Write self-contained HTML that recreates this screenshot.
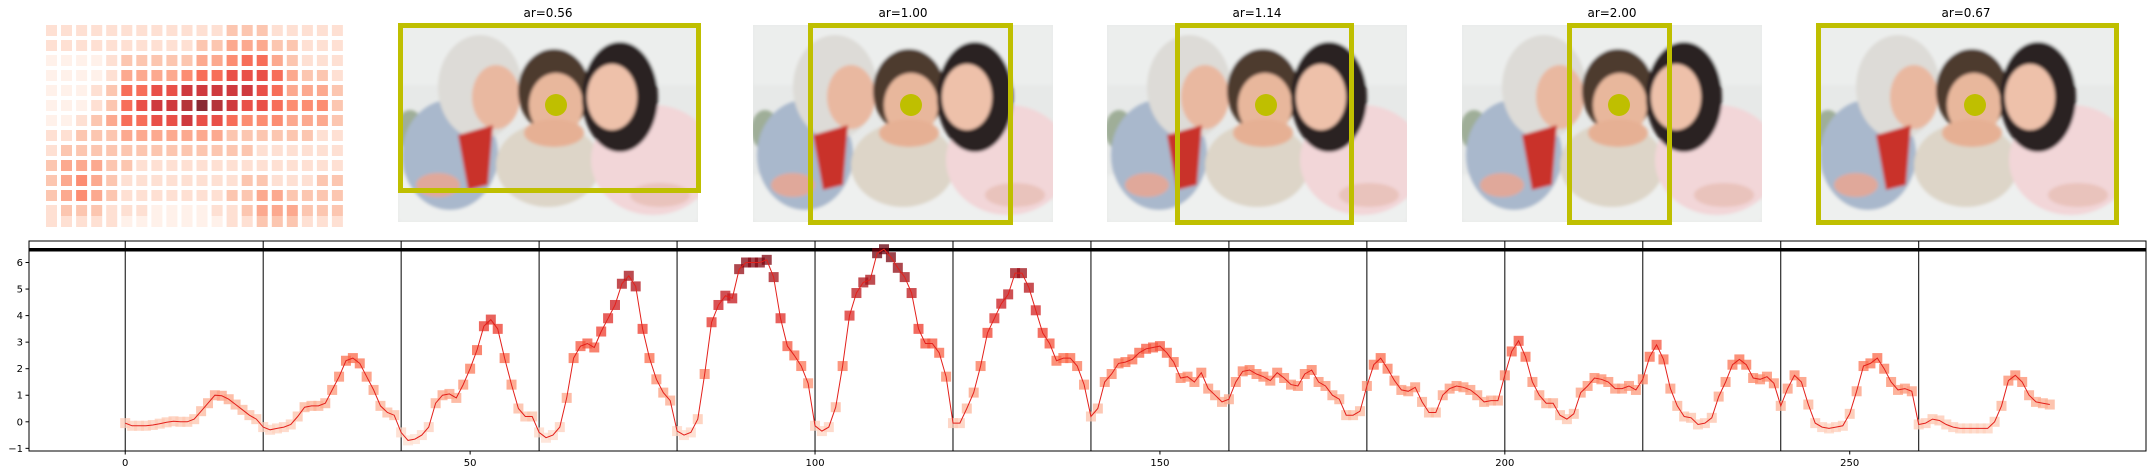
<!DOCTYPE html>
<html><head><meta charset="utf-8">
<style>
html,body{margin:0;padding:0;background:#fff;}
svg{display:block;font-family:"DejaVu Sans","Liberation Sans",sans-serif;}
</style></head>
<body>
<svg id="fig" width="2152" height="475" viewBox="0 0 2152 475" xmlns="http://www.w3.org/2000/svg">
<defs>
  <filter id="soft" x="-5%" y="-5%" width="110%" height="110%"><feGaussianBlur stdDeviation="1.6"/></filter>
  <clipPath id="pclip"><rect x="0" y="0" width="300" height="197"/></clipPath>
  <g id="photo">
    <g clip-path="url(#pclip)">
      <rect x="0" y="0" width="300" height="197" fill="#e7e9e8"/>
      <g filter="url(#soft)">
        <rect x="0" y="0" width="300" height="60" fill="#eceeed"/>
        <ellipse cx="12" cy="105" rx="14" ry="20" fill="#9fae98"/>
        <rect x="0" y="150" width="300" height="47" fill="#eef0ef"/>
        <ellipse cx="52" cy="130" rx="48" ry="55" fill="#a9b8cc"/>
        <ellipse cx="82" cy="62" rx="42" ry="52" fill="#dddbd7"/>
        <ellipse cx="98" cy="72" rx="24" ry="32" fill="#e9b8a0"/>
        <path d="M60 110 L95 100 L90 160 L70 165 Z" fill="#c9302c"/>
        <ellipse cx="40" cy="160" rx="22" ry="12" fill="#e0a89a"/>
        <ellipse cx="150" cy="140" rx="52" ry="42" fill="#ddd5c8"/>
        <ellipse cx="156" cy="66" rx="36" ry="42" fill="#4e3a2e"/>
        <ellipse cx="158" cy="80" rx="27" ry="32" fill="#e8b79c"/>
        <ellipse cx="156" cy="108" rx="30" ry="14" fill="#e6b094"/>
        <ellipse cx="255" cy="135" rx="62" ry="55" fill="#f2d6d8"/>
        <ellipse cx="222" cy="72" rx="38" ry="55" fill="#2a2020"/>
        <ellipse cx="214" cy="72" rx="25" ry="33" fill="#eec1aa"/>
        <ellipse cx="262" cy="170" rx="30" ry="12" fill="#e9c3bc"/>
      </g>
    </g>
  </g>
</defs>
<g id="heatmap"></g>
<g id="panels"></g>
<g id="chart"></g>
</svg>
<script>
const NS="http://www.w3.org/2000/svg";
function mk(tag,attrs,parent){const e=document.createElementNS(NS,tag);for(const k in attrs)e.setAttribute(k,attrs[k]);parent.appendChild(e);return e;}

// ---------- data ----------
const heatLevels=[
[1,1,1,1,1,1,1,1,1,1,1,1,2,2,2,1,1,1,1,1],
[1,1,1,1,1,1,1,1,1,1,2,2,3,3,3,2,2,1,1,1],
[0,0,0,0,1,2,2,2,2,2,3,3,4,5,5,3,2,1,1,1],
[0,0,0,0,1,3,3,3,3,4,5,5,6,6,6,5,3,2,2,1],
[0,0,0,1,2,5,5,6,6,7,7,7,7,7,6,5,3,3,3,2],
[0,0,0,1,2,5,6,7,7,8,9,8,7,6,6,5,4,4,4,2],
[0,0,1,2,3,5,5,6,6,7,6,6,5,4,4,4,3,3,3,2],
[1,1,2,2,2,3,3,3,3,3,3,3,2,2,2,2,2,2,1,1],
[1,2,2,2,2,2,2,2,2,2,2,2,2,2,1,1,1,1,1,1],
[2,3,3,3,2,2,1,1,1,1,1,1,1,1,1,1,1,1,1,1],
[2,3,4,3,2,1,1,1,1,1,1,1,1,2,2,1,1,1,2,2],
[2,3,4,3,2,1,1,1,1,1,1,1,2,2,3,3,2,2,2,2],
[1,2,2,2,1,1,1,0,0,0,0,1,1,2,3,3,3,2,2,2],
[1,1,1,1,1,0,0,0,0,0,0,0,1,1,2,2,2,1,1,1]];

const panelTitles=["ar=0.56","ar=1.00","ar=1.14","ar=2.00","ar=0.67"];

const series=[
-0.05,-0.15,-0.15,-0.15,-0.12,-0.07,-0.02,0.02,0.0,0.0,0.1,0.4,0.7,1.0,0.98,0.85,0.65,0.45,0.25,0.1,
-0.2,-0.3,-0.25,-0.2,-0.1,0.2,0.55,0.6,0.6,0.7,1.2,1.7,2.3,2.4,2.2,1.7,1.2,0.6,0.35,0.25,
-0.4,-0.7,-0.65,-0.5,-0.2,0.7,1.0,1.05,0.9,1.4,2.0,2.7,3.6,3.85,3.5,2.4,1.4,0.5,0.2,0.2,
-0.4,-0.6,-0.5,-0.2,0.9,2.4,2.85,2.95,2.8,3.4,3.9,4.4,5.2,5.5,5.1,3.5,2.4,1.6,1.1,0.8,
-0.35,-0.5,-0.4,0.1,1.8,3.75,4.4,4.75,4.65,5.75,6.0,6.0,6.0,6.1,5.45,3.9,2.85,2.5,2.1,1.45,
-0.15,-0.35,-0.2,0.55,2.1,4.0,4.85,5.25,5.35,6.35,6.5,6.2,5.8,5.45,4.85,3.5,2.95,2.95,2.6,1.7,
-0.05,-0.05,0.5,1.1,2.1,3.35,3.9,4.45,4.8,5.6,5.6,5.05,4.2,3.35,2.95,2.3,2.4,2.4,2.1,1.4,
0.2,0.5,1.5,1.8,2.2,2.25,2.35,2.6,2.75,2.8,2.85,2.6,2.25,1.65,1.7,1.5,1.85,1.25,1.0,0.75,
0.85,1.5,1.9,1.95,1.8,1.7,1.55,1.85,1.65,1.4,1.35,1.8,1.95,1.5,1.35,1.0,0.85,0.25,0.25,0.4,
1.35,2.15,2.4,2.0,1.55,1.2,1.15,1.3,0.75,0.35,0.35,1.0,1.25,1.35,1.3,1.2,1.0,0.75,0.8,0.8,
1.75,2.65,3.05,2.45,1.5,1.0,0.7,0.7,0.25,0.1,0.3,1.1,1.35,1.65,1.6,1.5,1.25,1.25,1.35,1.2,
1.6,2.45,2.9,2.35,1.25,0.6,0.2,0.15,-0.1,-0.05,0.15,0.95,1.5,2.15,2.35,2.15,1.65,1.6,1.7,1.45,
0.6,1.25,1.75,1.5,0.65,-0.05,-0.2,-0.25,-0.2,-0.15,0.3,1.15,2.1,2.2,2.4,2.0,1.5,1.2,1.25,1.15,
-0.1,-0.05,0.1,0.05,-0.1,-0.2,-0.25,-0.25,-0.25,-0.25,-0.25,0.0,0.6,1.55,1.75,1.5,1.0,0.75,0.7,0.65];

const segmentStarts=[0,20,40,60,80,100,120,140,160,180,200,220,240,260];
const xTicks=[0,50,100,150,200,250];
const yTicks=[-1,0,1,2,3,4,5,6];
const thresholdValue=6.48;

// ---------- colormap ----------
const REDS=[[255,245,240],[254,224,210],[252,187,161],[252,146,114],[251,106,74],[239,59,44],[203,24,29],[165,15,21],[103,0,13]];
function reds(t){t=Math.max(0,Math.min(1,t));const p=t*(REDS.length-1);const i=Math.min(REDS.length-2,Math.floor(p));const f=p-i;
 const c=REDS[i].map((v,k)=>Math.round(v+(REDS[i+1][k]-v)*f));return `rgb(${c[0]},${c[1]},${c[2]})`;}

// ---------- heatmap ----------
const hm=document.getElementById('heatmap');
heatLevels.forEach((row,r)=>row.forEach((lv,c)=>{
  const top=r<13?25+15*r:216;
  const e=mk('rect',{x:(46+15.05*c).toFixed(1),y:top,width:11,height:11,fill:reds(0.04+lv/9*0.93),'fill-opacity':0.85},hm);
  
  
}));

// ---------- panels ----------
const panelsG=document.getElementById('panels');
const imgX=[398,753,1107,1462,1816];
const boxes=[[398,23,303,170],[808,23,205,202],[1175,23,179,202],[1567,23,105,202],[1816,23,303,202]];
const dots=[556,911,1266,1619,1975];
panelTitles.forEach((t,i)=>{
  const g=mk('g',{},panelsG);
  
  
  const u=mk('use',{href:'#photo',x:imgX[i],y:25},g);
  
  
  const b=boxes[i];
  const r=mk('rect',{x:b[0]+2.5,y:b[1]+2.5,width:b[2]-5,height:b[3]-5,fill:'none',stroke:'#bfbf00','stroke-width':5},g);
  
  
  const c=mk('circle',{cx:dots[i],cy:105,r:11,fill:'#bfbf00'},g);
  
  
  const tx=mk('text',{x:imgX[i]+150,y:17,'text-anchor':'middle','font-size':12,fill:'#000'},g);
  tx.textContent=t;
  
  
});

// ---------- chart ----------
const ch=document.getElementById('chart');
const AX={l:29,r:2146,t:241,b:451};
const xmin=-13.95,xmax=292.95,ymin=-1.1,ymax=6.81;
const X=v=>AX.l+(v-xmin)/(xmax-xmin)*(AX.r-AX.l);
const Y=v=>AX.b-(v-ymin)/(ymax-ymin)*(AX.b-AX.t);

segmentStarts.forEach(s=>{
  const l=mk('line',{x1:X(s),x2:X(s),y1:AX.t,y2:AX.b,stroke:'#000','stroke-width':1},ch);
  
  
});
const th=mk('line',{x1:AX.l,x2:AX.r,y1:Y(thresholdValue),y2:Y(thresholdValue),stroke:'#000','stroke-width':3.5},ch);



const vmin=Math.min(...series),vmax=Math.max(...series);
const mg=mk('g',{},ch);


series.forEach((v,i)=>{
  const t=0.12+0.88*(v-vmin)/(vmax-vmin);
  const m=mk('rect',{x:X(i)-5,y:Y(v)-5,width:10,height:10,fill:reds(t),'fill-opacity':0.75},mg);
  
  
});
const pl=mk('polyline',{points:series.map((v,i)=>X(i).toFixed(1)+','+Y(v).toFixed(1)).join(' '),fill:'none',stroke:'#e3201b','stroke-width':1},ch);



const frame=mk('rect',{x:AX.l,y:AX.t,width:AX.r-AX.l,height:AX.b-AX.t,fill:'none',stroke:'#000','stroke-width':1},ch);



xTicks.forEach(v=>{
  const tk=mk('line',{x1:X(v),x2:X(v),y1:AX.b,y2:AX.b+3.5,stroke:'#000'},ch);
  
  
  const t=mk('text',{x:X(v),y:AX.b+15,'text-anchor':'middle','font-size':10,fill:'#000'},ch);
  t.textContent=String(v);
  
  
});
yTicks.forEach(v=>{
  const tk=mk('line',{x1:AX.l-3.5,x2:AX.l,y1:Y(v),y2:Y(v),stroke:'#000'},ch);
  
  
  const t=mk('text',{x:AX.l-6,y:Y(v)+3.5,'text-anchor':'end','font-size':10,fill:'#000'},ch);
  t.textContent=v<0?'\u2212'+Math.abs(v):String(v);
  
  
});
</script>
</body></html>
